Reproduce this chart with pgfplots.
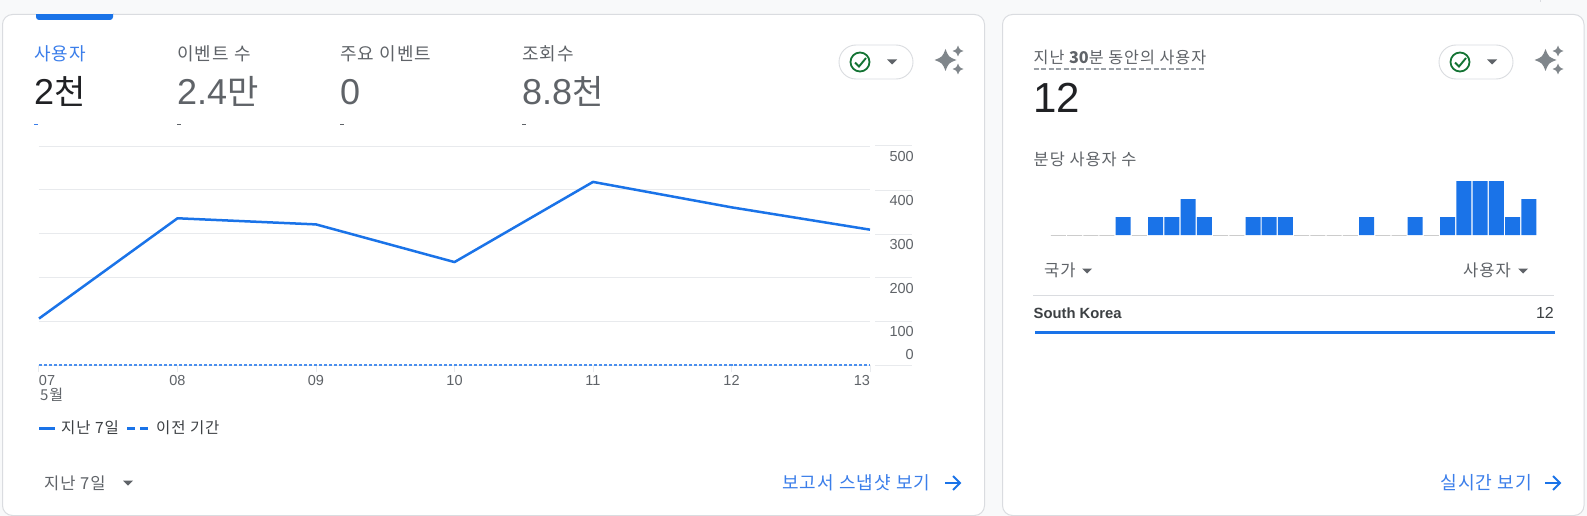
\documentclass[border=0pt]{standalone}
\usepackage{fontspec}
\usepackage{pgfplots}
\pgfplotsset{compat=1.18}
\setmainfont{Liberation Sans}
\newfontfamily\cjk[LetterSpace=6]{Noto Sans CJK KR}
\newfontfamily\cjknum{Noto Sans CJK KR}
\definecolor{gblue}{HTML}{1A73E8}
\definecolor{tblue}{HTML}{3B7EEA}
\definecolor{dblue}{HTML}{4A8FEE}
\definecolor{ggray}{HTML}{5F6368}
\definecolor{gdark}{HTML}{202124}
\definecolor{gmid}{HTML}{3C4043}
\definecolor{gline}{HTML}{E8EAED}
\definecolor{gborder}{HTML}{DADCE0}
\definecolor{gbg}{HTML}{F8F9FA}
\definecolor{ggreen}{HTML}{137333}
\definecolor{gicon}{HTML}{80868B}
\definecolor{gdash}{HTML}{9AA0A6}
\newcommand\fs[1]{\fontsize{#1}{#1}\selectfont}
% x, y, colour, size, text
\newcommand\K[5]{\node[anchor=west,inner sep=0pt,text=#3] at (#1,#2) {\fs{#4}\cjk #5};}
\newcommand\tri[2]{\fill[ggray] (#1-5,#2-2.5) -- (#1+5,#2-2.5) -- (#1,#2+2.5) -- cycle;}
\newcommand\spark[3]{\fill[gicon,shift={(#1,#2)},scale=#3] (0,-1) .. controls (.28,-.28) .. (1,0) .. controls (.28,.28) .. (0,1) .. controls (-.28,.28) .. (-1,0) .. controls (-.28,-.28) .. (0,-1) -- cycle;}
\newcommand\pill[1]{%
  \draw[gborder,line width=0.9pt,fill=white,rounded corners=17pt] (#1,45) rectangle (#1+74,79);
  \draw[ggreen,line width=1.8pt] (#1+21,62) circle (9.5);
  \draw[ggreen,line width=1.9pt] (#1+16,62.5) -- (#1+20,66.5) -- (#1+27,58);
  \tri{#1+53}{62}
}
\newcommand\arr[2]{\draw[gblue,line width=1.9pt] (#1,#2) -- (#1+15,#2) (#1+8,#2-7) -- (#1+15,#2) -- (#1+8,#2+7);}
\begin{document}
\begin{tikzpicture}[x=1pt,y=-1pt]
\path[use as bounding box] (0,0) rectangle (1587,516);
\fill[gbg] (0,0) rectangle (1587,516);
\draw[gborder,line width=1pt,fill=white,rounded corners=10pt] (2.5,14.5) rectangle (984.5,515.5);
\draw[gborder,line width=1pt,fill=white,rounded corners=10pt] (1002.5,14.5) rectangle (1584,515.5);
\draw[gborder,line width=1pt] (1540,0) -- (1540,2);
% tab
\fill[gblue,rounded corners=3pt] (36,10) rectangle (113,20);
\fill[gbg] (36,9) rectangle (113,14);
% KPI
\K{34}{53.5}{tblue}{18}{사용자}
\K{177}{53.5}{ggray}{18}{이벤트 수}
\K{340}{53.5}{ggray}{18}{주요 이벤트}
\K{522}{53.5}{ggray}{18}{조회수}
\node[anchor=base west,inner sep=0pt,text=gdark] at (34,105) {\fs{36}2\fs{34}\cjknum 천};
\node[anchor=base west,inner sep=0pt,text=ggray] at (177,105) {\fs{36}2.4\fs{34}\cjknum 만};
\node[anchor=base west,inner sep=0pt,text=ggray] at (340,105) {\fs{36}0};
\node[anchor=base west,inner sep=0pt,text=ggray] at (522,105) {\fs{36}8.8\fs{34}\cjknum 천};
\draw[tblue,line width=1pt] (34,125) -- (37.5,125);
\draw[ggray,line width=1pt] (177,125) -- (180.5,125) (340,125) -- (343.5,125) (522,125) -- (525.5,125);
\pill{839}
\spark{945.5}{60}{11}\spark{958}{51}{5.5}\spark{958}{69}{5.5}
% right stubs of gridlines
\foreach \yy in {146,190.3,234,277.7,321.3,365}{\draw[gline,line width=1pt] (875,\yy) -- (912,\yy);}
% line chart
\begin{axis}[
  at={(39pt,-365pt)},anchor=south west,scale only axis,width=831pt,height=219pt,
  xmin=0,xmax=6,ymin=0,ymax=500,clip=false,
  axis line style={draw=none},
  axis x line*=bottom,axis y line*=right,
  xtick={0,1,2,3,4,5,6},
  xticklabels={\makebox[0pt][l]{07},08,09,10,11,12,\makebox[0pt][r]{13}},
  ytick={100,200,300,400,500},
  ymajorgrids=true,xmajorgrids=false,major grid style={gline,line width=1pt},
  major tick length=7pt,tick align=outside,
  x tick style={draw=gline,line width=1pt},
  y tick style={draw=none},
  /pgf/number format/assume math mode=true,
  xticklabel style={font=\fs{14.5},text=ggray,anchor=base,yshift=-13pt,inner sep=0pt},
  yticklabel style={font=\fs{14.5},text=ggray,anchor=east,xshift=37pt,yshift=-10.7pt,inner sep=0pt},
  extra y ticks={0},
  extra y tick style={yticklabel style={yshift=20.7pt}},
]
\addplot[gblue,line width=2.5pt,line join=round] coordinates {(0,106) (1,335) (2,321) (3,235) (4,418) (5,360) (6,309)};
\addplot[dblue,line width=1.3pt,dash pattern=on 3pt off 2pt] coordinates {(0,0) (1,0) (2,0) (3,0) (4,0) (5,0) (6,0)};
\end{axis}
\K{40}{394.5}{ggray}{15}{5월}
% legend
\draw[gblue,line width=3pt] (39,428) -- (55,428);
\K{61}{428}{gmid}{15.5}{지난 7일}
\draw[gblue,line width=3pt] (127,428) -- (134.5,428) (140,428) -- (147.5,428);
\K{156}{428}{gmid}{15.5}{이전 기간}
% footer left
\K{44}{483}{ggray}{16.5}{지난 7일}
\tri{128}{483}
\K{782}{483}{tblue}{18}{보고서 스냅샷 보기}
\arr{945}{483}
% right card
\K{1033.5}{57}{ggray}{16.2}{지난 {\cjknum\bfseries 30}분 동안의 사용자}
\draw[gdash,line width=2pt,dash pattern=on 5pt off 2.5pt] (1033.5,69) -- (1205,69);
\node[anchor=base west,inner sep=0pt,text=gdark] at (1033,113) {\fs{42}12};
\pill{1439}
\spark{1545.5}{60}{11}\spark{1558}{51}{5.5}\spark{1558}{69}{5.5}
\K{1033.5}{159}{ggray}{16.4}{분당 사용자 수}
\begin{axis}[
  at={(1050.2pt,-235pt)},anchor=south west,scale only axis,width=486.7pt,height=54pt,
  xmin=-0.5,xmax=29.5,ymin=0,ymax=3,axis lines=none,clip=false,
]
\addplot[ybar,bar shift=0pt,bar width=15pt,draw=none,fill=gblue] coordinates {(4,1) (6,1) (7,1) (8,2) (9,1) (12,1) (13,1) (14,1) (19,1) (22,1) (24,1) (25,3) (26,3) (27,3) (28,1) (29,2)};
\addplot[ybar,bar shift=0pt,bar width=15pt,draw=gray!60,line width=1pt] coordinates {(0,0) (1,0) (2,0) (3,0) (5,0) (10,0) (11,0) (15,0) (16,0) (17,0) (18,0) (20,0) (21,0) (23,0)};
\end{axis}
\K{1044}{270}{ggray}{16.6}{국가}
\tri{1087}{271}
\K{1463}{270}{ggray}{16.6}{사용자}
\tri{1523}{271}
\draw[gborder,line width=1pt] (1033,295.5) -- (1554,295.5);
\node[anchor=west,inner sep=0pt,text=gmid] at (1033.5,313) {\fs{14.8}\bfseries South Korea};
\node[anchor=east,inner sep=0pt,text=gmid] at (1554,313) {\fs{16}12};
\fill[gblue] (1035,330.5) rectangle (1555,333.5);
\K{1440}{483}{tblue}{18.2}{실시간 보기}
\arr{1545}{483}
\end{tikzpicture}
\end{document}
